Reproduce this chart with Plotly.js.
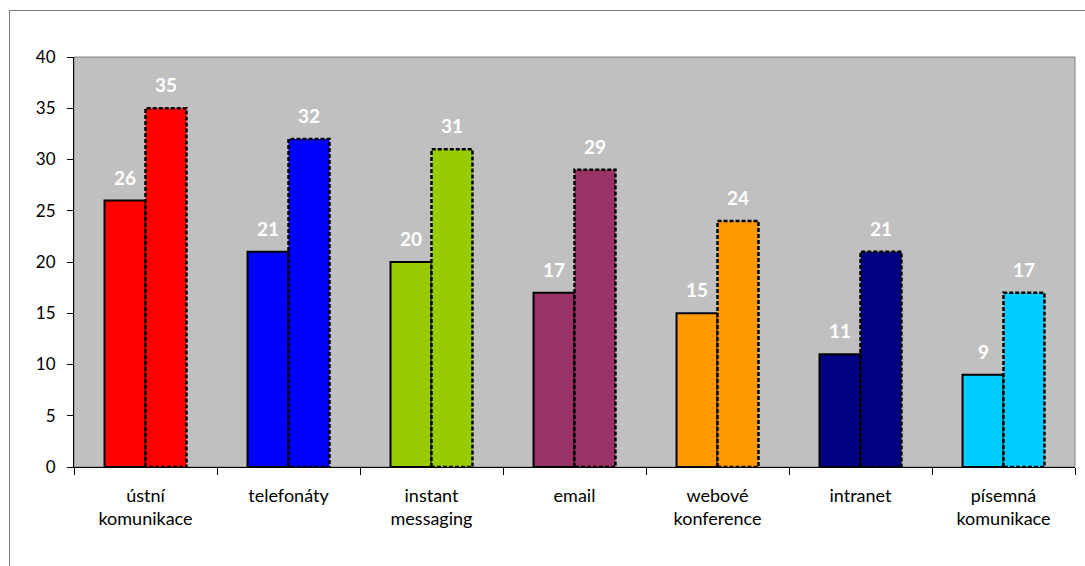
<!DOCTYPE html>
<html><head><meta charset="utf-8">
<script src="https://cdn.plot.ly/plotly-3.0.1.min.js"></script>
<style>
body{margin:0;padding:0;background:#fff;}
#wrap{position:relative;width:1085px;height:566px;overflow:hidden;}
#chart{position:absolute;left:0;top:0;width:1085px;height:566px;}
#frame{position:absolute;left:9px;top:10px;width:1200px;height:700px;border:1px solid #808080;pointer-events:none;}
</style></head>
<body><div id="wrap"><div id="chart"></div><div id="frame"></div></div>
<script>
const categories = ["ústní<br>komunikace","telefonáty","instant<br>messaging","email","webové<br>konference","intranet","písemná<br>komunikace"];
const series1 = [26,21,20,17,15,11,9];
const series2 = [35,32,31,29,24,21,17];
const colors = ["#FF0000","#0000FF","#99CC00","#993366","#FF9900","#000080","#00CCFF"];
const yTicks = [0,5,10,15,20,25,30,35,40];

const fontFam = "Lato, 'Open Sans', sans-serif";
const t1 = {type:'bar', x:categories, y:series1, marker:{color:colors, line:{color:'#000', width:2}}, hoverinfo:'none', offsetgroup:'a'};
const t2 = {type:'bar', x:categories, y:series2, marker:{color:colors, line:{color:'#000', width:2.5}}, hoverinfo:'none', offsetgroup:'b'};

const annotations = [];
categories.forEach((c,i)=>{
  annotations.push({x:i, xref:'x', y:series1[i], yref:'y', text:String(series1[i]), showarrow:false, xshift:-20.5, yanchor:'bottom', yshift:10, font:{family:fontFam, size:19, color:'#fff', weight:'bold'}});
  annotations.push({x:i, xref:'x', y:series2[i], yref:'y', text:String(series2[i]), showarrow:false, xshift:20.5, yanchor:'bottom', yshift:10, font:{family:fontFam, size:19, color:'#fff', weight:'bold'}});
});

const layout = {
  width:1085, height:566,
  margin:{l:74, r:10, t:57, b:99},
  paper_bgcolor:'#fff', plot_bgcolor:'#C0C0C0',
  showlegend:false,
  barmode:'group', bargap:0.427, bargroupgap:0,
  font:{family:fontFam, size:17, color:'#000'},
  xaxis:{type:'category', tickson:'boundaries', ticks:'outside', ticklen:7, tickcolor:'#000', tickwidth:1,
         showline:true, linecolor:'#000', linewidth:1, showgrid:false, zeroline:false,
         tickfont:{family:fontFam, size:18, color:'#000'}, ticklabelstandoff:12, fixedrange:true},
  yaxis:{range:[0,40], tickvals:yTicks, ticktext:yTicks.map(String), ticks:'outside', ticklen:6, tickcolor:'#000',
         showline:true, linecolor:'#000', linewidth:1, showgrid:false, zeroline:false,
         tickfont:{family:fontFam, size:17, color:'#000'}, ticklabelstandoff:8, fixedrange:true},
  shapes:[{type:'rect', xref:'paper', yref:'paper', x0:0, x1:1, y0:0, y1:1, line:{color:'#808080', width:1}, layer:'below'}],
  annotations:annotations
};

Plotly.newPlot('chart',[t1,t2],layout,{staticPlot:true, displayModeBar:false}).then(()=>{
  const traces = document.querySelectorAll('.barlayer .trace');
  if(traces[1]) traces[1].querySelectorAll('path').forEach(p=>{p.style.strokeDasharray='4,2';});
});
</script></body></html>
